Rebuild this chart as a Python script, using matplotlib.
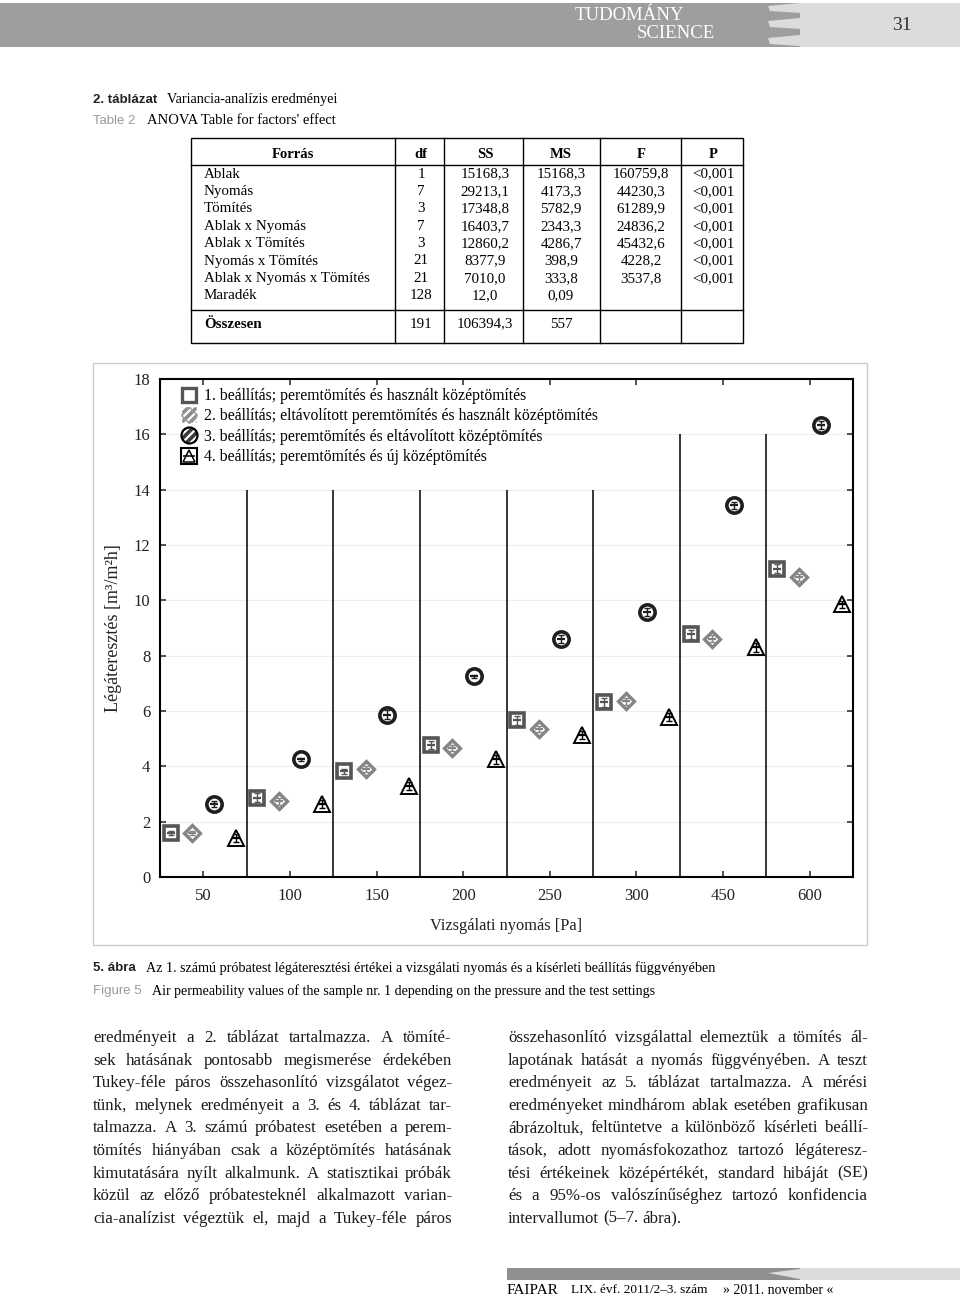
import matplotlib
matplotlib.use("Agg")
import matplotlib.pyplot as plt
from matplotlib.patches import Rectangle, Polygon
from matplotlib.lines import Line2D
from matplotlib.legend_handler import HandlerTuple
import numpy as np

W, H = 960, 1301

# ---- chart data (air permeability, sample nr. 1) ----
PRESSURES = ["50", "100", "150", "200", "250", "300", "450", "600"]
SETUP_LABELS = [
    "1. beállítás; peremtömítés és használt középtömítés",
    "2. beállítás; eltávolított peremtömítés és használt középtömítés",
    "3. beállítás; peremtömítés és eltávolított középtömítés",
    "4. beállítás; peremtömítés és új középtömítés",
]
SETUP1 = [1.59, 2.87, 3.82, 4.76, 5.66, 6.31, 8.77, 11.15]
SETUP2 = [1.59, 2.73, 3.90, 4.67, 5.34, 6.35, 8.61, 10.83]
SETUP3 = [2.64, 4.25, 5.87, 7.25, 8.61, 9.58, 13.43, 16.35]
SETUP4 = [1.40, 2.65, 3.30, 4.25, 5.12, 5.78, 8.30, 9.85]
SE1 = [0.06, 0.15, 0.08, 0.15, 0.15, 0.15, 0.15, 0.15]
SE2 = [0.08, 0.12, 0.12, 0.10, 0.10, 0.12, 0.12, 0.12]
SE3 = [0.12, 0.06, 0.15, 0.05, 0.15, 0.15, 0.12, 0.15]
SE4 = [0.15, 0.15, 0.15, 0.15, 0.15, 0.15, 0.15, 0.12]

# ---- ANOVA table ----
TABLE_HEAD = ["Forrás", "df", "SS", "MS", "F", "P"]
SOURCES = ["Ablak", "Nyomás", "Tömítés", "Ablak x Nyomás", "Ablak x Tömítés",
           "Nyomás x Tömítés", "Ablak x Nyomás x Tömítés", "Maradék"]
DF = ["1", "7", "3", "7", "3", "21", "21", "128"]
SS = ["15168,3", "29213,1", "17348,8", "16403,7", "12860,2", "8377,9", "7010,0", "12,0"]
MS = ["15168,3", "4173,3", "5782,9", "2343,3", "4286,7", "398,9", "333,8", "0,09"]
FVAL = ["160759,8", "44230,3", "61289,9", "24836,2", "45432,6", "4228,2", "3537,8", ""]
PVAL = ["<0,001"] * 7 + [""]
TOTAL = ["Összesen", "191", "106394,3", "557", "", ""]

LEFT_TEXT = [
    "eredményeit a 2. táblázat tartalmazza. A tömíté-",
    "sek hatásának pontosabb megismerése érdekében",
    "Tukey-féle páros összehasonlító vizsgálatot végez-",
    "tünk, melynek eredményeit a 3. és 4. táblázat tar-",
    "talmazza. A 3. számú próbatest esetében a perem-",
    "tömítés hiányában csak a középtömítés hatásának",
    "kimutatására nyílt alkalmunk. A statisztikai próbák",
    "közül az előző próbatesteknél alkalmazott varian-",
    "cia-analízist végeztük el, majd a Tukey-féle páros",
]
RIGHT_TEXT = [
    "összehasonlító vizsgálattal elemeztük a tömítés ál-",
    "lapotának hatását a nyomás függvényében. A teszt",
    "eredményeit az 5. táblázat tartalmazza. A mérési",
    "eredményeket mindhárom ablak esetében grafikusan",
    "ábrázoltuk, feltüntetve a különböző kísérleti beállí-",
    "tások, adott nyomásfokozathoz tartozó légáteresz-",
    "tési értékeinek középértékét, standard hibáját (SE)",
    "és a 95%-os valószínűséghez tartozó konfidencia",
    "intervallumot (5–7. ábra).",
]

SERIF = ["Liberation Serif", "DejaVu Serif"]
SANS_C = ["Liberation Sans Narrow", "Liberation Sans", "DejaVu Sans"]

plt.rcParams.update({
    "font.family": SERIF,
    "hatch.color": "white",
    "hatch.linewidth": 1.6,
})


def px(x, y):
    return x / W, 1 - y / H


def rect(fig, x0, y0, x1, y1, **kw):
    fig.patches.append(Rectangle(px(x0, y1), (x1 - x0) / W, (y1 - y0) / H,
                                 transform=fig.transFigure, **kw))


def hline(fig, x0, x1, y, **kw):
    fig.add_artist(Line2D([x0 / W, x1 / W], [1 - y / H] * 2, transform=fig.transFigure, **kw))


def vline(fig, x, y0, y1, **kw):
    fig.add_artist(Line2D([x / W] * 2, [1 - y0 / H, 1 - y1 / H], transform=fig.transFigure, **kw))


def justify(fig, renderer, line, x0, x1, y, last=False, **kw):
    words = line.split(" ")
    arts = [fig.text(0, 0, w, va="center_baseline", ha="left", **kw) for w in words]
    widths = [a.get_window_extent(renderer).width for a in arts]
    if last or len(words) == 1:
        gap = 4.0
    else:
        gap = (x1 - x0 - sum(widths)) / (len(words) - 1)
    x = x0
    for a, w in zip(arts, widths):
        a.set_position(px(x, y))
        x += w + gap


fig = plt.figure(figsize=(W / 100, H / 100), dpi=100)
renderer = fig.canvas.get_renderer()

# ---- header band ----
rect(fig, 0, 3, 800, 47, facecolor="#9e9e9e", edgecolor="none")
rect(fig, 800, 3, 960, 47, facecolor="#dcdcdc", edgecolor="none")
for y0, y1 in [(3, 13), (18, 29), (35, 46)]:
    fig.patches.append(Polygon([px(800, y0), px(768, y0 + 3), px(770, y1 - 2), px(800, y1)],
                               closed=True, transform=fig.transFigure,
                               facecolor="#dcdcdc", edgecolor="none"))
fig.text(*px(575, 15), "TUDOMÁNY", color="white", fontsize=13.5, va="center", ha="left")
fig.text(*px(637, 33), "SCIENCE", color="white", fontsize=13.5, va="center", ha="left")
fig.text(*px(902, 25), "31", color="#333333", fontsize=14, va="center", ha="center")

# ---- table caption ----
fig.text(*px(93, 100), "2. táblázat", family=SANS_C, fontweight="bold", fontsize=9.5,
         va="center", color="#222222")
fig.text(*px(167, 100), "Variancia-analízis eredményei", fontsize=10.2, va="center")
fig.text(*px(93, 121), "Table 2", family=SANS_C, fontsize=9.5, va="center", color="#9a9a9a")
fig.text(*px(147, 121), "ANOVA Table for factors' effect", fontsize=10.5, va="center")

# ---- ANOVA table ----
rect(fig, 191, 138, 743, 343, facecolor="none", edgecolor="black", linewidth=1.0)
hline(fig, 191, 743, 165, color="black", linewidth=1.0)
hline(fig, 191, 743, 310, color="black", linewidth=1.0)
for xs in [395, 444, 523, 600, 681]:
    vline(fig, xs, 138, 343, color="black", linewidth=1.0)
col_x = [293, 421, 485, 561, 641, 713]
for cx, head in zip(col_x, TABLE_HEAD):
    fig.text(*px(cx, 155), head, fontsize=10.5, fontweight="bold", ha="center", va="center")
for i, row in enumerate(zip(SOURCES, DF, SS, MS, FVAL, PVAL)):
    y = 174 + i * 17.4
    fig.text(*px(204, y), row[0], fontsize=10.8, ha="left", va="center")
    for cx, val in zip(col_x[1:], row[1:]):
        fig.text(*px(cx, y), val, fontsize=10.8, ha="center", va="center")
fig.text(*px(204, 324), TOTAL[0], fontsize=10.8, fontweight="bold", ha="left", va="center")
for cx, val in zip(col_x[1:], TOTAL[1:]):
    fig.text(*px(cx, 324), val, fontsize=10.8, ha="center", va="center")

# ---- chart ----
rect(fig, 93, 363, 867, 945, facecolor="none", edgecolor="#cccccc", linewidth=1.0)
ax = fig.add_axes([160 / W, 1 - 877 / H, (853 - 160) / W, (877 - 379) / H])
x = np.arange(len(PRESSURES))
offsets = [-0.375, -0.125, 0.125, 0.375]
series = [
    (SETUP1, SE1, "s", 10, "#555555", 2.6),
    (SETUP2, SE2, "D", 8.5, "#858585", 2.4),
    (SETUP3, SE3, "o", 11, "#1e1e1e", 2.6),
    (SETUP4, SE4, "^", 12, "#000000", 1.4),
]
for (vals, se, mk, ms, col, mew), off in zip(series, offsets):
    xs = x + off
    ax.plot(xs, vals, ls="none", marker=mk, ms=ms, mfc="white", mec=col, mew=mew, zorder=3)
    ax.errorbar(xs, vals, yerr=se, fmt="none", ecolor=col, elinewidth=1.0,
                capsize=2.5, capthick=1.0, zorder=4)
    ax.plot(xs, vals, ls="none", marker="_", ms=6, mec=col, mew=1.6, zorder=4)

ax.vlines(x[:-1] + 0.5, 0, [14, 14, 14, 14, 14, 16, 16], color="black", linewidth=1.1, zorder=2)
ax.set_xlim(-0.5, len(PRESSURES) - 0.5)
ax.set_ylim(0, 18)
ax.set_xticks(x, PRESSURES)
ax.set_yticks(np.arange(0, 19, 2))
ax.tick_params(direction="in", length=4, width=1.1, top=True, right=True,
               labelsize=12, colors="#222222")
ax.tick_params(axis="y", pad=7)
ax.tick_params(axis="x", pad=8)
ax.grid(axis="y", color="#ededed", linewidth=0.8, zorder=0)
for sp in ax.spines.values():
    sp.set_linewidth(1.5)
ax.set_xlabel("Vizsgálati nyomás [Pa]", fontsize=11.8, labelpad=10, color="#222222")
ax.set_ylabel("Légáteresztés [m³/m²h]", fontsize=13, labelpad=8, color="#222222")

# legend proxies
h1 = Line2D([], [], ls="none", marker="s", ms=10, mfc="white", mec="#555555", mew=2.4)
h2a = ax.scatter([], [], marker="s", s=120, facecolors="#8c8c8c", edgecolors="white",
                 linewidths=0.3, hatch="////")
h2b = Line2D([], [], ls="none", marker="D", ms=8, mfc="none", mec="#9a9a9a", mew=1.0)
h3a = ax.scatter([], [], marker="o", s=130, facecolors="#3a3a3a", edgecolors="white",
                 linewidths=0.3, hatch="////")
h3b = Line2D([], [], ls="none", marker="o", ms=11.5, mfc="none", mec="black", mew=1.6)
h4a = Line2D([], [], ls="none", marker="s", ms=11, mfc="white", mec="black", mew=1.5)
h4b = Line2D([], [], ls="none", marker="^", ms=8, mfc="none", mec="black", mew=1.1)
h4c = Line2D([], [], ls="none", marker="_", ms=8, mec="black", mew=1.1)
ax.legend([h1, (h2a, h2b), (h3a, h3b), (h4a, h4b, h4c)], SETUP_LABELS,
          handler_map={tuple: HandlerTuple(ndivide=1)}, scatteryoffsets=[0.5],
          loc="upper left", bbox_to_anchor=px(182, 388), bbox_transform=fig.transFigure,
          frameon=False, fontsize=11.3, handlelength=0.95, handletextpad=0.45,
          labelspacing=0.28, borderpad=0, borderaxespad=0)

# ---- figure caption ----
fig.text(*px(93, 968), "5. ábra", family=SANS_C, fontweight="bold", fontsize=9.5,
         va="center", color="#222222")
fig.text(*px(146, 968), "Az 1. számú próbatest légáteresztési értékei a vizsgálati nyomás "
         "és a kísérleti beállítás függvényében", fontsize=10.2, va="center")
fig.text(*px(93, 991), "Figure 5", family=SANS_C, fontsize=9.5, va="center", color="#9a9a9a")
fig.text(*px(152, 991), "Air permeability values of the sample nr. 1 depending on the "
         "pressure and the test settings", fontsize=10.1, va="center")

# ---- body text, two justified columns ----
for i, line in enumerate(LEFT_TEXT):
    justify(fig, renderer, line, 93, 452, 1036 + i * 22.6, fontsize=12.2, color="#1a1a1a")
for i, line in enumerate(RIGHT_TEXT):
    justify(fig, renderer, line, 508, 868, 1036 + i * 22.6,
            last=(i == len(RIGHT_TEXT) - 1), fontsize=12.2, color="#1a1a1a")

# ---- footer ----
rect(fig, 507, 1268, 800, 1280, facecolor="#8f8f8f", edgecolor="none")
rect(fig, 800, 1268, 960, 1280, facecolor="#dcdcdc", edgecolor="none")
fig.patches.append(Polygon([px(800, 1269), px(768, 1273), px(800, 1279)], closed=True,
                           transform=fig.transFigure, facecolor="#dcdcdc", edgecolor="none"))
fig.text(*px(507, 1290), "FAIPAR", fontsize=11, va="center", ha="left")
fig.text(*px(571, 1290), "LIX. évf. 2011/2–3. szám", fontsize=9.5, va="center", ha="left")
fig.text(*px(723, 1290), "» 2011. november «", fontsize=10, va="center", ha="left")

fig.savefig("out.png", dpi=100)
